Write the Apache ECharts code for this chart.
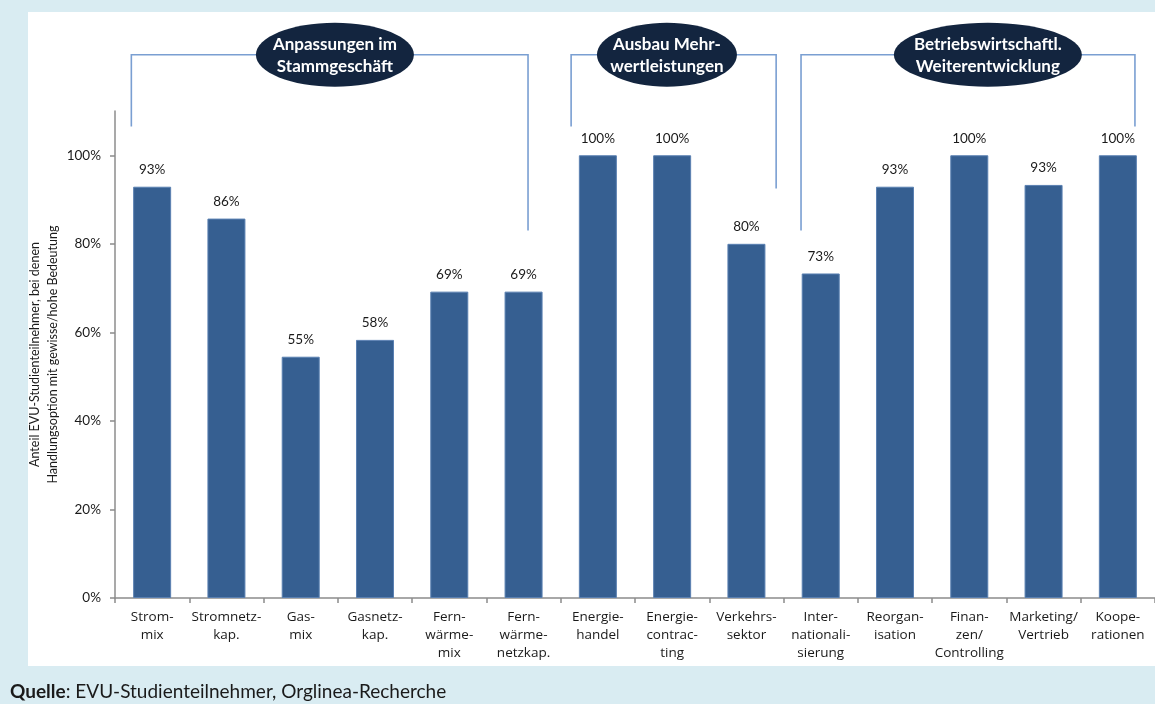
<!DOCTYPE html>
<html><head><meta charset="utf-8">
<script src="https://cdn.jsdelivr.net/npm/echarts@6/dist/echarts.min.js"></script>
<style>html,body{margin:0;padding:0;background:#d9ecf2}#c{width:1155px;height:704px}</style>
</head><body><div id="c"></div>
<script>
const categories = ['Strom-\nmix','Stromnetz-\nkap.','Gas-\nmix','Gasnetz-\nkap.','Fern-\nwärme-\nmix','Fern-\nwärme-\nnetzkap.','Energie-\nhandel','Energie-\ncontrac-\nting','Verkehrs-\nsektor','Inter-\nnationali-\nsierung','Reorgan-\nisation','Finan-\nzen/\nControlling','Marketing/\nVertrieb','Koope-\nrationen'];
const shares = [92.9, 85.7, 54.5, 58.3, 69.2, 69.2, 100, 100, 80, 73.3, 92.9, 100, 93.3, 100];
const yTicks = [0, 20, 40, 60, 80, 100];
const groupLabels = ['Anpassungen im\nStammgeschäft', 'Ausbau Mehr-\nwertleistungen', 'Betriebswirtschaftl.\nWeiterentwicklung'];
const groupFirst = [0, 6, 9];
const groupLast = [5, 8, 13];
const yAxisTitle = 'Anteil EVU-Studienteilnehmer, bei denen\nHandlungsoption mit gewisse/hohe Bedeutung';
const sourceLabel = 'Quelle';
const sourceText = ': EVU-Studienteilnehmer, Orglinea-Recherche';

const FONT = 'Lato, "Open Sans", sans-serif';
const FONT2 = '"Open Sans", Lato, sans-serif';
const chart = echarts.init(document.getElementById('c'), null, {renderer: 'canvas'});

const option = {
  backgroundColor: '#d9ecf2',
  animation: false,
  grid: {left: 115, right: 0, top: 111, bottom: 106, containLabel: false},
  xAxis: {
    type: 'category',
    data: categories,
    axisLine: {lineStyle: {color: '#8c8c8c', width: 1.5}},
    axisTick: {show: true, length: 5, lineStyle: {color: '#8c8c8c', width: 1.5}},
    axisLabel: {interval: 0, color: '#1a1a1a', fontFamily: FONT2, fontSize: 13.5, lineHeight: 18, margin: 10}
  },
  yAxis: {
    type: 'value',
    min: 0, max: 110, interval: 20,
    name: yAxisTitle,
    nameLocation: 'middle',
    nameGap: 53,
    nameMoveOverlap: false,
    nameTextStyle: {color: '#1a1a1a', fontFamily: FONT, fontSize: 12.5, lineHeight: 18},
    axisLine: {show: true, lineStyle: {color: '#8c8c8c', width: 1.5}},
    axisTick: {show: true, length: 5, customValues: yTicks, lineStyle: {color: '#8c8c8c', width: 1.5}},
    axisLabel: {customValues: yTicks, formatter: '{value}%', color: '#1a1a1a', fontFamily: FONT, fontSize: 13.5, margin: 14},
    splitLine: {show: false}
  },
  series: [{
    type: 'bar',
    data: shares,
    barWidth: 38,
    itemStyle: {color: '#365f91', borderColor: '#5a80b2', borderWidth: 1},
    label: {show: true, position: 'top', distance: 10, color: '#1a1a1a', fontFamily: FONT, fontSize: 13.5,
      formatter: p => Math.round(p.value) + '%'}
  }]
};
chart.setOption(option);

// bracket annotations placed via the axes
const layout = [
  {l: -0.28, r: 0.06, le: 106.5, re: 83, ex: 2.46, rx: 79},
  {l: -0.36, r: 0.40, le: 106.5, re: 92.5, ex: 6.93, rx: 70},
  {l: -0.265, r: 0.23, le: 83, re: 106.5, ex: 11.25, rx: 94}
];
const px = (i, v) => chart.convertToPixel({xAxisIndex: 0, yAxisIndex: 0}, [i, v]);
const x0 = px(0, 0)[0], x1 = px(1, 0)[0];
const xAt = f => x0 + f * (x1 - x0);
const yAt = v => px(0, v)[1];
const topLevel = 122.7;
const elements = [];
elements.push({type: 'rect', z: -100, shape: {x: 28, y: 12, width: 1127, height: 654}, style: {fill: '#ffffff'}, silent: true});
groupLabels.forEach((lbl, g) => {
  const L = layout[g];
  const xl = xAt(groupFirst[g] + L.l), xr = xAt(groupLast[g] + L.r);
  const yt = yAt(topLevel);
  elements.push({type: 'polyline', z: 10, shape: {points: [[xl, yAt(L.le)], [xl, yt], [xr, yt], [xr, yAt(L.re)]]},
    style: {stroke: '#7a9fd2', lineWidth: 1.6, fill: null}});
  const cx = xAt(L.ex);
  elements.push({type: 'ellipse', z: 11, shape: {cx: cx, cy: yt, rx: L.rx, ry: 32}, style: {fill: '#13253f'}});
  elements.push({type: 'text', z: 12, x: cx, y: yt + 1, style: {text: lbl, align: 'center', verticalAlign: 'middle',
    fill: '#ffffff', font: 'bold 17px ' + FONT, lineHeight: 22}});
});
elements.push({type: 'text', z: 12, x: 10, y: 692, style: {
  text: '{b|' + sourceLabel + '}{n|' + sourceText + '}', verticalAlign: 'middle', align: 'left',
  rich: {b: {fontWeight: 'bold', fontFamily: FONT, fontSize: 19, fill: '#1a1a1a'},
         n: {fontFamily: FONT, fontSize: 19, fill: '#1a1a1a'}}}});
chart.setOption({graphic: {elements: elements}});
</script></body></html>
